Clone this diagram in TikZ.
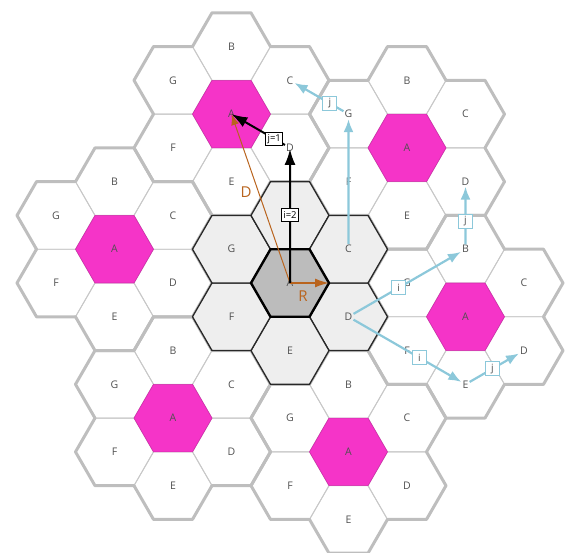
\documentclass[tikz,border=0pt]{standalone}
\usepackage{fontspec}
\setmainfont{Open Sans}
\usetikzlibrary{calc,arrows.meta}
\definecolor{hexpink}{RGB}{245,52,200}
\definecolor{hexgray}{RGB}{190,190,190}
\definecolor{thingray}{RGB}{200,200,200}
\definecolor{cenfill}{RGB}{238,238,238}
\definecolor{cenmid}{RGB}{188,188,188}
\definecolor{darkedge}{RGB}{40,40,40}
\definecolor{brownc}{RGB}{185,100,30}
\definecolor{cyanc}{RGB}{140,200,218}
\definecolor{labc}{RGB}{80,80,80}
\begin{document}
\begin{tikzpicture}[x=1pt,y=-1pt,
  thinedge/.style={draw=thingray,line width=0.9pt},
  thickedge/.style={draw=hexgray,line width=3pt,line join=round,line cap=round},
  pinkcell/.style={fill=hexpink,draw=hexpink!85!black,line width=0.6pt},
  cencell/.style={fill=cenfill,draw=darkedge,line width=1.3pt},
  midcell/.style={fill=cenmid,draw=black,line width=2.4pt,line join=round},
  lab/.style={text=labc,font=\fontsize{10.5}{12}\selectfont,inner sep=1pt},
  bigl/.style={text=brownc,font=\fontsize{15}{16}\selectfont,inner sep=1pt},
  blkarrow/.style={draw=black,line width=2pt,-{Latex[length=16pt,width=11pt]}},
  brnline/.style={draw=brownc,line width=1pt,-{Latex[length=11pt,width=8pt]}},
  brnarrow/.style={draw=brownc,line width=1.6pt,-{Latex[length=14pt,width=9pt]}},
  cyarrow/.style={draw=cyanc,line width=2.2pt,-{Latex[length=13pt,width=10pt]}},
  blkbox/.style={draw=black,fill=white,line width=1pt,inner sep=2pt,text=black,font=\fontsize{9.5}{10}\selectfont,minimum height=13pt},
  cybox/.style={draw=cyanc,fill=white,line width=1.3pt,inner sep=1pt,text=labc,font=\fontsize{10}{11}\selectfont,minimum width=14pt,minimum height=14pt}
]
\useasboundingbox (0,0) rectangle (566,553);
\def\R{39}
\def\a{67.55}
% cluster centres (A cells)
\coordinate (K0) at (290,283);
\coordinate (K1) at (231.5,114.12);
\coordinate (K2) at (407,147.9);
\coordinate (K3) at (465.5,316.78);
\coordinate (K4) at (348.5,451.88);
\coordinate (K5) at (173,418.1);
\coordinate (K6) at (114.5,249.22);
% outer clusters: thin cell edges and pink A cells
\foreach \k in {1,...,6}{
  \foreach \p in {30,90,150,210,270,330}{
    \draw[thinedge] ($(K\k)+(\p:\a)$) +(0:\R) -- +(60:\R) -- +(120:\R) -- +(180:\R) -- +(240:\R) -- +(300:\R) -- cycle;
  }
  \filldraw[pinkcell] (K\k) +(0:\R) -- +(60:\R) -- +(120:\R) -- +(180:\R) -- +(240:\R) -- +(300:\R) -- cycle;
}
% outer clusters: thick cluster boundaries
\foreach \k in {1,...,6}{
  \foreach \p in {30,90,150,210,270,330}{
    \draw[thickedge] ($(K\k)+(\p:\a)$) +({\p-90}:\R) -- +({\p-30}:\R) -- +({\p+30}:\R) -- +({\p+90}:\R);
  }
}
% central cluster
\foreach \p in {30,90,150,210,270,330}{
  \filldraw[cencell] ($(K0)+(\p:\a)$) +(0:\R) -- +(60:\R) -- +(120:\R) -- +(180:\R) -- +(240:\R) -- +(300:\R) -- cycle;
}
\filldraw[midcell] (K0) +(0:\R) -- +(60:\R) -- +(120:\R) -- +(180:\R) -- +(240:\R) -- +(300:\R) -- cycle;
% cell labels
\foreach \k in {1,...,6}{
  \node[lab] (k\k A) at (K\k) {A};
  \foreach \p/\L in {270/B,330/C,30/D,90/E,150/F,210/G}{
    \node[lab] (k\k\L) at ($(K\k)+(\p:\a)$) {\L};
  }
}
\node[lab] (k0A) at (K0) {A};
\foreach \p/\L in {330/C,30/D,90/E,150/F,210/G}{
  \node[lab] (k0\L) at ($(K0)+(\p:\a)$) {\L};
}
\coordinate (k0B) at ($(K0)+(270:\a)$);
\coordinate (Rv) at ($(K0)+(0:\R)$);
% brown D and R
\draw[brnline] (k0A.center) -- (k1A.center);
\node[bigl] (Dlab) at (246,192) {D};
\draw[brnarrow] (k0A.center) -- (Rv);
\node[bigl] (Rlab) at (303,296) {R};
% black i/j arrows
\draw[blkarrow,shorten >=1pt] (k0A.center) -- (k1D.center) node[blkbox,pos=0.5] (ib) {i=2};
\draw[blkarrow] (k1D) -- (k1A.center) node[blkbox,pos=0.2] (jb) {j=1};
% cyan arrows
\draw[cyarrow] (k0C) -- (k2G);
\draw[cyarrow] (k2G) -- (k1C) node[cybox,pos=0.28] (cj1) {j};
\draw[cyarrow] (k0D) -- (k3B) node[cybox,pos=0.42] (ci1) {i};
\draw[cyarrow] (k3B) -- (k2D) node[cybox,pos=0.4] (cj2) {j};
\draw[cyarrow] (k0D) -- (k3E) node[cybox,pos=0.61] (ci2) {i};
\draw[cyarrow] (k3E) -- (k3D) node[cybox,pos=0.46] (cj3) {j};
\end{tikzpicture}
\end{document}
